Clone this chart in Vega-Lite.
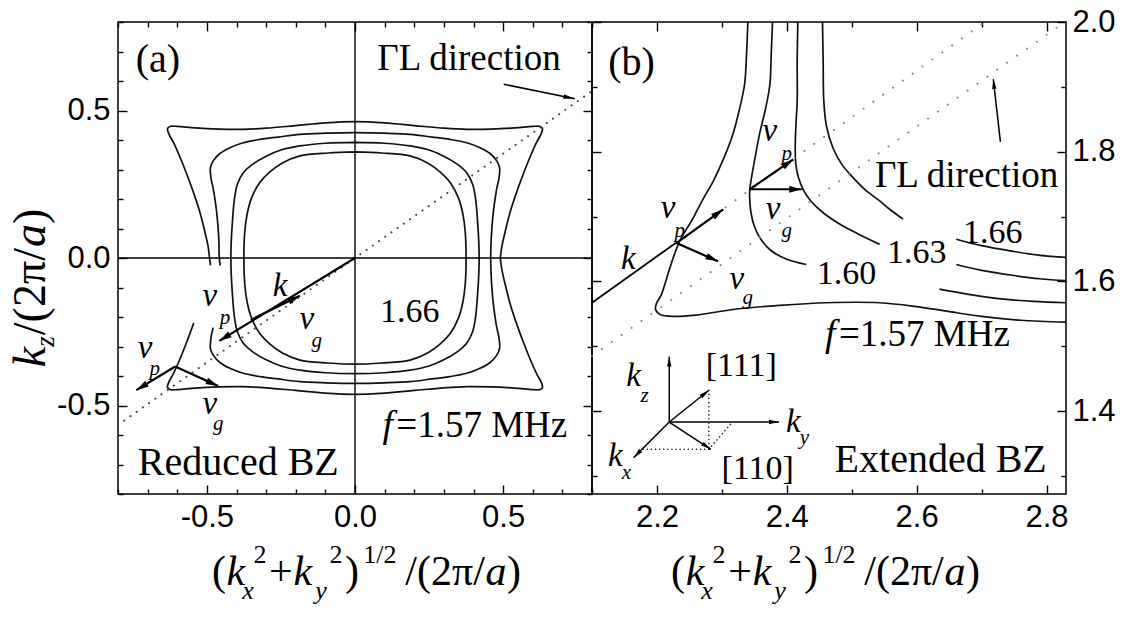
{
  "$schema": "https://vega.github.io/schema/vega-lite/v6.json",
  "background": "white",
  "padding": {"left": 7, "top": 5, "right": 0, "bottom": 0},
  "config": {
    "view": {"stroke": "black", "strokeWidth": 1.5},
    "text": {"font": "Liberation Serif", "color": "black"}
  },
  "datasets": {
    "curvesA": [
      {"c":"a1","i":0,"x":-0.488,"y":-0.025},{"c":"a1","i":1,"x":-0.491,"y":0},{"c":"a1","i":2,"x":-0.496,"y":0.04},{"c":"a1","i":3,"x":-0.507,"y":0.09},{"c":"a1","i":4,"x":-0.525,"y":0.16},{"c":"a1","i":5,"x":-0.548,"y":0.23},{"c":"a1","i":6,"x":-0.57,"y":0.29},{"c":"a1","i":7,"x":-0.592,"y":0.345},{"c":"a1","i":8,"x":-0.612,"y":0.39},{"c":"a1","i":9,"x":-0.628,"y":0.42},{"c":"a1","i":10,"x":-0.633,"y":0.438},{"c":"a1","i":11,"x":-0.625,"y":0.446},{"c":"a1","i":12,"x":-0.6,"y":0.446},{"c":"a1","i":13,"x":-0.54,"y":0.441},{"c":"a1","i":14,"x":-0.46,"y":0.437},{"c":"a1","i":15,"x":-0.38,"y":0.436},{"c":"a1","i":16,"x":-0.3,"y":0.44},{"c":"a1","i":17,"x":-0.2,"y":0.449},{"c":"a1","i":18,"x":-0.1,"y":0.458},{"c":"a1","i":19,"x":0,"y":0.462},{"c":"a1","i":20,"x":0.1,"y":0.458},{"c":"a1","i":21,"x":0.2,"y":0.449},{"c":"a1","i":22,"x":0.3,"y":0.44},{"c":"a1","i":23,"x":0.38,"y":0.436},{"c":"a1","i":24,"x":0.46,"y":0.437},{"c":"a1","i":25,"x":0.54,"y":0.441},{"c":"a1","i":26,"x":0.6,"y":0.446},{"c":"a1","i":27,"x":0.625,"y":0.446},{"c":"a1","i":28,"x":0.633,"y":0.438},{"c":"a1","i":29,"x":0.628,"y":0.42},{"c":"a1","i":30,"x":0.612,"y":0.39},{"c":"a1","i":31,"x":0.592,"y":0.345},{"c":"a1","i":32,"x":0.57,"y":0.29},{"c":"a1","i":33,"x":0.548,"y":0.23},{"c":"a1","i":34,"x":0.525,"y":0.16},{"c":"a1","i":35,"x":0.507,"y":0.09},{"c":"a1","i":36,"x":0.496,"y":0.04},{"c":"a1","i":37,"x":0.491,"y":0},{"c":"a1","i":38,"x":0.496,"y":-0.04},{"c":"a1","i":39,"x":0.507,"y":-0.09},{"c":"a1","i":40,"x":0.525,"y":-0.16},{"c":"a1","i":41,"x":0.548,"y":-0.23},{"c":"a1","i":42,"x":0.57,"y":-0.29},{"c":"a1","i":43,"x":0.592,"y":-0.345},{"c":"a1","i":44,"x":0.612,"y":-0.39},{"c":"a1","i":45,"x":0.628,"y":-0.42},{"c":"a1","i":46,"x":0.633,"y":-0.438},{"c":"a1","i":47,"x":0.625,"y":-0.446},{"c":"a1","i":48,"x":0.6,"y":-0.446},{"c":"a1","i":49,"x":0.54,"y":-0.441},{"c":"a1","i":50,"x":0.46,"y":-0.437},{"c":"a1","i":51,"x":0.38,"y":-0.436},{"c":"a1","i":52,"x":0.3,"y":-0.44},{"c":"a1","i":53,"x":0.2,"y":-0.449},{"c":"a1","i":54,"x":0.1,"y":-0.458},{"c":"a1","i":55,"x":0,"y":-0.462},{"c":"a1","i":56,"x":-0.1,"y":-0.458},{"c":"a1","i":57,"x":-0.2,"y":-0.449},{"c":"a1","i":58,"x":-0.3,"y":-0.44},{"c":"a1","i":59,"x":-0.38,"y":-0.436},{"c":"a1","i":60,"x":-0.46,"y":-0.437},{"c":"a1","i":61,"x":-0.54,"y":-0.441},{"c":"a1","i":62,"x":-0.6,"y":-0.446},{"c":"a1","i":63,"x":-0.625,"y":-0.446},{"c":"a1","i":64,"x":-0.633,"y":-0.438},{"c":"a1","i":65,"x":-0.628,"y":-0.42},{"c":"a1","i":66,"x":-0.612,"y":-0.39},{"c":"a1","i":67,"x":-0.592,"y":-0.345},{"c":"a1","i":68,"x":-0.57,"y":-0.29},{"c":"a1","i":69,"x":-0.544,"y":-0.22},
      {"c":"a2","i":0,"x":-0.455,"y":-0.025},{"c":"a2","i":1,"x":-0.458,"y":0},{"c":"a2","i":2,"x":-0.46,"y":0.07},{"c":"a2","i":3,"x":-0.465,"y":0.137},{"c":"a2","i":4,"x":-0.47,"y":0.18},{"c":"a2","i":5,"x":-0.479,"y":0.238},{"c":"a2","i":6,"x":-0.486,"y":0.27},{"c":"a2","i":7,"x":-0.488,"y":0.306},{"c":"a2","i":8,"x":-0.478,"y":0.33},{"c":"a2","i":9,"x":-0.455,"y":0.355},{"c":"a2","i":10,"x":-0.422,"y":0.374},{"c":"a2","i":11,"x":-0.38,"y":0.39},{"c":"a2","i":12,"x":-0.321,"y":0.402},{"c":"a2","i":13,"x":-0.26,"y":0.41},{"c":"a2","i":14,"x":-0.186,"y":0.419},{"c":"a2","i":15,"x":-0.1,"y":0.423},{"c":"a2","i":16,"x":0,"y":0.425},{"c":"a2","i":17,"x":0.1,"y":0.423},{"c":"a2","i":18,"x":0.186,"y":0.419},{"c":"a2","i":19,"x":0.26,"y":0.41},{"c":"a2","i":20,"x":0.321,"y":0.402},{"c":"a2","i":21,"x":0.38,"y":0.39},{"c":"a2","i":22,"x":0.422,"y":0.374},{"c":"a2","i":23,"x":0.455,"y":0.355},{"c":"a2","i":24,"x":0.478,"y":0.33},{"c":"a2","i":25,"x":0.488,"y":0.306},{"c":"a2","i":26,"x":0.486,"y":0.27},{"c":"a2","i":27,"x":0.479,"y":0.238},{"c":"a2","i":28,"x":0.47,"y":0.18},{"c":"a2","i":29,"x":0.465,"y":0.137},{"c":"a2","i":30,"x":0.46,"y":0.07},{"c":"a2","i":31,"x":0.458,"y":0},{"c":"a2","i":32,"x":0.46,"y":-0.07},{"c":"a2","i":33,"x":0.465,"y":-0.137},{"c":"a2","i":34,"x":0.47,"y":-0.18},{"c":"a2","i":35,"x":0.479,"y":-0.238},{"c":"a2","i":36,"x":0.486,"y":-0.27},{"c":"a2","i":37,"x":0.488,"y":-0.306},{"c":"a2","i":38,"x":0.478,"y":-0.33},{"c":"a2","i":39,"x":0.455,"y":-0.355},{"c":"a2","i":40,"x":0.422,"y":-0.374},{"c":"a2","i":41,"x":0.38,"y":-0.39},{"c":"a2","i":42,"x":0.321,"y":-0.402},{"c":"a2","i":43,"x":0.26,"y":-0.41},{"c":"a2","i":44,"x":0.186,"y":-0.419},{"c":"a2","i":45,"x":0.1,"y":-0.423},{"c":"a2","i":46,"x":0,"y":-0.425},{"c":"a2","i":47,"x":-0.1,"y":-0.423},{"c":"a2","i":48,"x":-0.186,"y":-0.419},{"c":"a2","i":49,"x":-0.26,"y":-0.41},{"c":"a2","i":50,"x":-0.321,"y":-0.402},{"c":"a2","i":51,"x":-0.38,"y":-0.39},{"c":"a2","i":52,"x":-0.422,"y":-0.374},{"c":"a2","i":53,"x":-0.455,"y":-0.355},{"c":"a2","i":54,"x":-0.478,"y":-0.33},{"c":"a2","i":55,"x":-0.488,"y":-0.306},{"c":"a2","i":56,"x":-0.486,"y":-0.27},{"c":"a2","i":57,"x":-0.479,"y":-0.236},
      {"c":"a3","i":0,"x":0,"y":0.392},{"c":"a3","i":1,"x":0.1,"y":0.389},{"c":"a3","i":2,"x":0.186,"y":0.38},{"c":"a3","i":3,"x":0.25,"y":0.366},{"c":"a3","i":4,"x":0.298,"y":0.346},{"c":"a3","i":5,"x":0.345,"y":0.318},{"c":"a3","i":6,"x":0.377,"y":0.289},{"c":"a3","i":7,"x":0.397,"y":0.25},{"c":"a3","i":8,"x":0.407,"y":0.2},{"c":"a3","i":9,"x":0.414,"y":0.12},{"c":"a3","i":10,"x":0.418,"y":0.05},{"c":"a3","i":11,"x":0.419,"y":0},{"c":"a3","i":12,"x":0.418,"y":-0.05},{"c":"a3","i":13,"x":0.414,"y":-0.12},{"c":"a3","i":14,"x":0.407,"y":-0.2},{"c":"a3","i":15,"x":0.397,"y":-0.25},{"c":"a3","i":16,"x":0.377,"y":-0.289},{"c":"a3","i":17,"x":0.345,"y":-0.318},{"c":"a3","i":18,"x":0.298,"y":-0.346},{"c":"a3","i":19,"x":0.25,"y":-0.366},{"c":"a3","i":20,"x":0.186,"y":-0.38},{"c":"a3","i":21,"x":0.1,"y":-0.389},{"c":"a3","i":22,"x":0,"y":-0.392},{"c":"a3","i":23,"x":-0.1,"y":-0.389},{"c":"a3","i":24,"x":-0.186,"y":-0.38},{"c":"a3","i":25,"x":-0.25,"y":-0.366},{"c":"a3","i":26,"x":-0.298,"y":-0.346},{"c":"a3","i":27,"x":-0.345,"y":-0.318},{"c":"a3","i":28,"x":-0.377,"y":-0.289},{"c":"a3","i":29,"x":-0.397,"y":-0.25},{"c":"a3","i":30,"x":-0.407,"y":-0.2},{"c":"a3","i":31,"x":-0.414,"y":-0.12},{"c":"a3","i":32,"x":-0.418,"y":-0.05},{"c":"a3","i":33,"x":-0.419,"y":0},{"c":"a3","i":34,"x":-0.418,"y":0.05},{"c":"a3","i":35,"x":-0.414,"y":0.12},{"c":"a3","i":36,"x":-0.407,"y":0.2},{"c":"a3","i":37,"x":-0.397,"y":0.25},{"c":"a3","i":38,"x":-0.377,"y":0.289},{"c":"a3","i":39,"x":-0.345,"y":0.318},{"c":"a3","i":40,"x":-0.298,"y":0.346},{"c":"a3","i":41,"x":-0.25,"y":0.366},{"c":"a3","i":42,"x":-0.186,"y":0.38},{"c":"a3","i":43,"x":-0.1,"y":0.389},{"c":"a3","i":44,"x":0,"y":0.392},
      {"c":"a4","i":0,"x":0,"y":0.36},{"c":"a4","i":1,"x":0.09,"y":0.356},{"c":"a4","i":2,"x":0.186,"y":0.346},{"c":"a4","i":3,"x":0.245,"y":0.322},{"c":"a4","i":4,"x":0.287,"y":0.292},{"c":"a4","i":5,"x":0.322,"y":0.255},{"c":"a4","i":6,"x":0.349,"y":0.204},{"c":"a4","i":7,"x":0.364,"y":0.15},{"c":"a4","i":8,"x":0.372,"y":0.09},{"c":"a4","i":9,"x":0.375,"y":0},{"c":"a4","i":10,"x":0.372,"y":-0.09},{"c":"a4","i":11,"x":0.364,"y":-0.15},{"c":"a4","i":12,"x":0.349,"y":-0.204},{"c":"a4","i":13,"x":0.322,"y":-0.255},{"c":"a4","i":14,"x":0.287,"y":-0.292},{"c":"a4","i":15,"x":0.245,"y":-0.322},{"c":"a4","i":16,"x":0.186,"y":-0.346},{"c":"a4","i":17,"x":0.09,"y":-0.356},{"c":"a4","i":18,"x":0,"y":-0.36},{"c":"a4","i":19,"x":-0.09,"y":-0.356},{"c":"a4","i":20,"x":-0.186,"y":-0.346},{"c":"a4","i":21,"x":-0.245,"y":-0.322},{"c":"a4","i":22,"x":-0.287,"y":-0.292},{"c":"a4","i":23,"x":-0.322,"y":-0.255},{"c":"a4","i":24,"x":-0.349,"y":-0.204},{"c":"a4","i":25,"x":-0.364,"y":-0.15},{"c":"a4","i":26,"x":-0.372,"y":-0.09},{"c":"a4","i":27,"x":-0.375,"y":0},{"c":"a4","i":28,"x":-0.372,"y":0.09},{"c":"a4","i":29,"x":-0.364,"y":0.15},{"c":"a4","i":30,"x":-0.349,"y":0.204},{"c":"a4","i":31,"x":-0.322,"y":0.255},{"c":"a4","i":32,"x":-0.287,"y":0.292},{"c":"a4","i":33,"x":-0.245,"y":0.322},{"c":"a4","i":34,"x":-0.186,"y":0.346},{"c":"a4","i":35,"x":-0.09,"y":0.356},{"c":"a4","i":36,"x":0,"y":0.36}
    ],
    "curvesB": [
      {"c":"b1","i":0,"x":2.34,"y":2.0},{"c":"b1","i":1,"x":2.338,"y":1.95},{"c":"b1","i":2,"x":2.335,"y":1.904},{"c":"b1","i":3,"x":2.327,"y":1.865},{"c":"b1","i":4,"x":2.317,"y":1.827},{"c":"b1","i":5,"x":2.303,"y":1.79},{"c":"b1","i":6,"x":2.287,"y":1.755},{"c":"b1","i":7,"x":2.27,"y":1.725},{"c":"b1","i":8,"x":2.256,"y":1.698},{"c":"b1","i":9,"x":2.235,"y":1.662},{"c":"b1","i":10,"x":2.22,"y":1.621},{"c":"b1","i":11,"x":2.207,"y":1.58},{"c":"b1","i":12,"x":2.199,"y":1.565},{"c":"b1","i":13,"x":2.198,"y":1.556},{"c":"b1","i":14,"x":2.205,"y":1.549},{"c":"b1","i":15,"x":2.225,"y":1.546},{"c":"b1","i":16,"x":2.26,"y":1.548},{"c":"b1","i":17,"x":2.32,"y":1.557},{"c":"b1","i":18,"x":2.389,"y":1.563},{"c":"b1","i":19,"x":2.46,"y":1.567},{"c":"b1","i":20,"x":2.543,"y":1.567},{"c":"b1","i":21,"x":2.6,"y":1.561},{"c":"b1","i":22,"x":2.646,"y":1.554},{"c":"b1","i":23,"x":2.7,"y":1.546},{"c":"b1","i":24,"x":2.76,"y":1.54},{"c":"b1","i":25,"x":2.83,"y":1.537},
      {"c":"b2u","i":0,"x":2.378,"y":2.0},{"c":"b2u","i":1,"x":2.376,"y":1.95},{"c":"b2u","i":2,"x":2.374,"y":1.904},{"c":"b2u","i":3,"x":2.367,"y":1.865},{"c":"b2u","i":4,"x":2.358,"y":1.827},{"c":"b2u","i":5,"x":2.351,"y":1.79},{"c":"b2u","i":6,"x":2.346,"y":1.762},{"c":"b2u","i":7,"x":2.343,"y":1.742},{"c":"b2u","i":8,"x":2.343,"y":1.725},{"c":"b2u","i":9,"x":2.345,"y":1.705},{"c":"b2u","i":10,"x":2.35,"y":1.685},{"c":"b2u","i":11,"x":2.36,"y":1.665},{"c":"b2u","i":12,"x":2.375,"y":1.648},{"c":"b2u","i":13,"x":2.4,"y":1.634},{"c":"b2u","i":14,"x":2.43,"y":1.626},
      {"c":"b2r","i":0,"x":2.635,"y":1.588},{"c":"b2r","i":1,"x":2.68,"y":1.58},{"c":"b2r","i":2,"x":2.73,"y":1.573},{"c":"b2r","i":3,"x":2.78,"y":1.569},{"c":"b2r","i":4,"x":2.83,"y":1.567},
      {"c":"b3u","i":0,"x":2.417,"y":2.0},{"c":"b3u","i":1,"x":2.416,"y":1.94},{"c":"b3u","i":2,"x":2.416,"y":1.878},{"c":"b3u","i":3,"x":2.414,"y":1.84},{"c":"b3u","i":4,"x":2.413,"y":1.801},{"c":"b3u","i":5,"x":2.414,"y":1.78},{"c":"b3u","i":6,"x":2.418,"y":1.76},{"c":"b3u","i":7,"x":2.425,"y":1.742},{"c":"b3u","i":8,"x":2.437,"y":1.724},{"c":"b3u","i":9,"x":2.457,"y":1.705},{"c":"b3u","i":10,"x":2.482,"y":1.688},{"c":"b3u","i":11,"x":2.51,"y":1.673},{"c":"b3u","i":12,"x":2.543,"y":1.657},
      {"c":"b3r","i":0,"x":2.661,"y":1.626},{"c":"b3r","i":1,"x":2.7,"y":1.617},{"c":"b3r","i":2,"x":2.75,"y":1.609},{"c":"b3r","i":3,"x":2.79,"y":1.604},{"c":"b3r","i":4,"x":2.83,"y":1.601},
      {"c":"b4u","i":0,"x":2.455,"y":2.0},{"c":"b4u","i":1,"x":2.456,"y":1.94},{"c":"b4u","i":2,"x":2.457,"y":1.878},{"c":"b4u","i":3,"x":2.461,"y":1.84},{"c":"b4u","i":4,"x":2.471,"y":1.806},{"c":"b4u","i":5,"x":2.485,"y":1.78},{"c":"b4u","i":6,"x":2.502,"y":1.76},{"c":"b4u","i":7,"x":2.52,"y":1.742},{"c":"b4u","i":8,"x":2.543,"y":1.724},{"c":"b4u","i":9,"x":2.56,"y":1.71},{"c":"b4u","i":10,"x":2.579,"y":1.696},
      {"c":"b4r","i":0,"x":2.661,"y":1.665},{"c":"b4r","i":1,"x":2.7,"y":1.655},{"c":"b4r","i":2,"x":2.75,"y":1.646},{"c":"b4r","i":3,"x":2.79,"y":1.64},{"c":"b4r","i":4,"x":2.83,"y":1.637}
    ],
    "axisLinesA": [{"x":-0.8,"y":0,"x2":0.8,"y2":0},{"x":0,"y":-0.8,"x2":0,"y2":0.8}],
    "dotsA": [{"x":-0.8,"y":-0.566,"x2":0.8,"y2":0.566}],
    "arrowsA": [
      {"x":0,"y":0,"x2":-0.458,"y2":-0.281},
      {"x":-0.352,"y":-0.21,"x2":-0.186,"y2":-0.128},
      {"x":-0.607,"y":-0.368,"x2":-0.738,"y2":-0.448},
      {"x":-0.607,"y":-0.368,"x2":-0.462,"y2":-0.434}
    ],
    "thinA": [{"x":0.502,"y":0.589,"x2":0.742,"y2":0.54}],
    "kLineB": [{"x":2.1,"y":1.567,"x2":2.23,"y2":1.66}],
    "dotsB": [{"x":2.1,"y":1.485,"x2":2.828,"y2":2.0},{"x":2.23,"y":1.66,"x2":2.705,"y2":2.0}],
    "insetDotsB": [{"x":2.28,"y":1.432,"x2":2.28,"y2":1.341},{"x":2.28,"y":1.341,"x2":2.177,"y2":1.341},{"x":2.28,"y":1.341,"x2":2.316,"y2":1.383}],
    "arrowsB": [
      {"x":2.23,"y":1.659,"x2":2.302,"y2":1.711},
      {"x":2.23,"y":1.659,"x2":2.294,"y2":1.631},
      {"x":2.343,"y":1.742,"x2":2.41,"y2":1.788},
      {"x":2.343,"y":1.742,"x2":2.423,"y2":1.742}
    ],
    "thinB": [
      {"x":2.729,"y":1.815,"x2":2.718,"y2":1.912},
      {"x":2.219,"y":1.383,"x2":2.219,"y2":1.484},
      {"x":2.219,"y":1.383,"x2":2.388,"y2":1.383},
      {"x":2.219,"y":1.383,"x2":2.164,"y2":1.328},
      {"x":2.219,"y":1.383,"x2":2.28,"y2":1.432},
      {"x":2.219,"y":1.383,"x2":2.283,"y2":1.341}
    ],
    "bigA": [{"t":"(a)","x":-0.665,"y":0.67},{"t":"Reduced BZ","x":-0.394,"y":-0.696}],
    "medA": [{"t":"ΓL direction","x":0.385,"y":0.673},{"t":"=1.57 MHz","x":0.428,"y":-0.569}],
    "numA": [{"t":"1.66","x":0.185,"y":-0.183}],
    "itA": [{"t":"k","x":-0.253,"y":-0.095},{"t":"v","x":-0.49,"y":-0.129},{"t":"v","x":-0.163,"y":-0.208},{"t":"v","x":-0.709,"y":-0.304},{"t":"v","x":-0.49,"y":-0.496}],
    "itBigA": [{"t":"f","x":0.111,"y":-0.569}],
    "subA": [{"t":"p","x":-0.439,"y":-0.202},{"t":"g","x":-0.129,"y":-0.281},{"t":"p","x":-0.676,"y":-0.377},{"t":"g","x":-0.462,"y":-0.564}],
    "bigB": [{"t":"(b)","x":2.161,"y":1.937},{"t":"Extended BZ","x":2.637,"y":1.325}],
    "medB": [{"t":"ΓL direction","x":2.677,"y":1.762},{"t":"=1.57 MHz","x":2.612,"y":1.518}],
    "numB": [{"t":"1.60","x":2.492,"y":1.611},{"t":"1.63","x":2.6,"y":1.644},{"t":"1.66","x":2.717,"y":1.675},{"t":"[111]","x":2.33,"y":1.469},{"t":"[110]","x":2.355,"y":1.31}],
    "itB": [{"t":"k","x":2.156,"y":1.634},{"t":"v","x":2.217,"y":1.713},{"t":"v","x":2.323,"y":1.603},{"t":"v","x":2.374,"y":1.832},{"t":"v","x":2.379,"y":1.711},{"t":"k","x":2.164,"y":1.454},{"t":"k","x":2.41,"y":1.383},{"t":"k","x":2.136,"y":1.331}],
    "itBigB": [{"t":"f","x":2.467,"y":1.518}],
    "subB": [{"t":"p","x":2.235,"y":1.677},{"t":"g","x":2.34,"y":1.575},{"t":"p","x":2.4,"y":1.796},{"t":"g","x":2.4,"y":1.677},{"t":"z","x":2.181,"y":1.423},{"t":"y","x":2.427,"y":1.359},{"t":"x","x":2.153,"y":1.304}],
    "xTitleUpA": [{"t":"(","x":-0.459,"y":-1.108},{"t":"+","x":-0.25,"y":-1.108},{"t":")","x":-0.01,"y":-1.108},{"t":"/(2π/","x":0.304,"y":-1.108},{"t":")","x":0.537,"y":-1.108}],
    "xTitleItA": [{"t":"k","x":-0.402,"y":-1.108},{"t":"k","x":-0.176,"y":-1.108},{"t":"a","x":0.476,"y":-1.108}],
    "xTitleSupA": [{"t":"2","x":-0.321,"y":-1.034},{"t":"2","x":-0.064,"y":-1.034},{"t":"1/2","x":0.084,"y":-1.034}],
    "xTitleSubA": [{"t":"x","x":-0.361,"y":-1.156},{"t":"y","x":-0.115,"y":-1.156}],
    "xTitleUpB": [{"t":"(","x":2.2324,"y":1.131},{"t":"+","x":2.3279,"y":1.131},{"t":")","x":2.4373,"y":1.131},{"t":"/(2π/","x":2.5805,"y":1.131},{"t":")","x":2.6868,"y":1.131}],
    "xTitleItB": [{"t":"k","x":2.2586,"y":1.131},{"t":"k","x":2.3618,"y":1.131},{"t":"a","x":2.6591,"y":1.131}],
    "xTitleSupB": [{"t":"2","x":2.2956,"y":1.165},{"t":"2","x":2.4126,"y":1.165},{"t":"1/2","x":2.4804,"y":1.165}],
    "xTitleSubB": [{"t":"x","x":2.2771,"y":1.11},{"t":"y","x":2.3895,"y":1.11}],
    "yTitleUpA": [{"t":"/(2π/","x":-1.046,"y":-0.114},{"t":")","x":-1.046,"y":0.141}],
    "yTitleItA": [{"t":"k","x":-1.046,"y":-0.336},{"t":"a","x":-1.046,"y":0.076}],
    "yTitleSubA": [{"t":"z","x":-1.016,"y":-0.283}]
  },
  "hconcat": [
    {
      "width": 474,
      "height": 472,
      "resolve": {"axis": {"x": "independent", "y": "independent"}},
      "layer": [
        {
          "data": {"name": "curvesA"},
          "mark": {"type": "line", "interpolate": "catmull-rom", "color": "#111", "strokeWidth": 1.7, "clip": true},
          "encoding": {
            "x": {"field": "x", "type": "quantitative", "scale": {"domain": [-0.8, 0.8], "nice": false, "zero": false},
              "axis": {"orient": "bottom", "values": [-0.8,-0.7,-0.6,-0.5,-0.4,-0.3,-0.2,-0.1,0,0.1,0.2,0.3,0.4,0.5,0.6,0.7,0.8], "title": null, "domain": false, "grid": false,
                "tickColor": "black", "tickWidth": 1.4, "tickSize": {"condition": {"test": "abs(datum.value*2-round(datum.value*2))<0.001", "value": -9}, "value": -5},
                "labelExpr": "abs(datum.value*2-round(datum.value*2))<0.001 ? ((datum.value < -0.001 ? '-' : '') + format(abs(datum.value), '.1f')) : ''",
                "labelFont": "Liberation Sans", "labelFontSize": 31, "labelColor": "black", "labelPadding": 17, "labelOverlap": false, "labelFlush": false, "labelBound": false}},
            "y": {"field": "y", "type": "quantitative", "scale": {"domain": [-0.8, 0.8], "nice": false, "zero": false},
              "axis": {"orient": "left", "values": [-0.8,-0.7,-0.6,-0.5,-0.4,-0.3,-0.2,-0.1,0,0.1,0.2,0.3,0.4,0.5,0.6,0.7,0.8], "title": null, "domain": false, "grid": false,
                "tickColor": "black", "tickWidth": 1.4, "tickSize": {"condition": {"test": "abs(datum.value*2-round(datum.value*2))<0.001", "value": -9}, "value": -5},
                "labelExpr": "abs(datum.value*2-round(datum.value*2))<0.001 ? ((datum.value < -0.001 ? '-' : '') + format(abs(datum.value), '.1f')) : ''",
                "labelFont": "Liberation Sans", "labelFontSize": 31, "labelColor": "black", "labelPadding": 17, "labelOverlap": false, "labelBound": false}},
            "detail": {"field": "c"},
            "order": {"field": "i", "type": "quantitative"}
          }
        },
        {
          "data": {"name": "axisLinesA"},
          "mark": {"type": "rule", "color": "black", "strokeWidth": 1.4},
          "encoding": {
            "x": {"field": "x", "type": "quantitative", "scale": {"domain": [-0.8, 0.8], "nice": false, "zero": false},
              "axis": {"orient": "top", "values": [-0.8,-0.7,-0.6,-0.5,-0.4,-0.3,-0.2,-0.1,0,0.1,0.2,0.3,0.4,0.5,0.6,0.7,0.8], "title": null, "domain": false, "grid": false, "labels": false,
                "tickColor": "black", "tickWidth": 1.4, "tickSize": {"condition": {"test": "abs(datum.value*2-round(datum.value*2))<0.001", "value": -9}, "value": -5}}},
            "y": {"field": "y", "type": "quantitative", "scale": {"domain": [-0.8, 0.8], "nice": false, "zero": false},
              "axis": {"orient": "right", "values": [-0.8,-0.7,-0.6,-0.5,-0.4,-0.3,-0.2,-0.1,0,0.1,0.2,0.3,0.4,0.5,0.6,0.7,0.8], "title": null, "domain": false, "grid": false, "labels": false,
                "tickColor": "black", "tickWidth": 1.4, "tickSize": {"condition": {"test": "abs(datum.value*2-round(datum.value*2))<0.001", "value": -9}, "value": -5}}},
            "x2": {"field": "x2"},
            "y2": {"field": "y2"}
          }
        },
        {
          "data": {"name": "dotsA"},
          "mark": {"type": "rule", "color": "#444", "strokeWidth": 2, "strokeDash": [0.1, 7.5], "strokeCap": "round"},
          "encoding": {
            "x": {"field": "x", "type": "quantitative", "scale": {"domain": [-0.8, 0.8], "nice": false, "zero": false}, "axis": null},
            "y": {"field": "y", "type": "quantitative", "scale": {"domain": [-0.8, 0.8], "nice": false, "zero": false}, "axis": null},
            "x2": {"field": "x2"}, "y2": {"field": "y2"}
          }
        },
        {
          "data": {"name": "arrowsA"},
          "mark": {"type": "rule", "color": "black", "strokeWidth": 2.2},
          "encoding": {
            "x": {"field": "x", "type": "quantitative", "scale": {"domain": [-0.8, 0.8], "nice": false, "zero": false}, "axis": null},
            "y": {"field": "y", "type": "quantitative", "scale": {"domain": [-0.8, 0.8], "nice": false, "zero": false}, "axis": null},
            "x2": {"field": "x2"}, "y2": {"field": "y2"}
          }
        },
        {
          "data": {"name": "arrowsA"},
          "transform": [{"calculate": "atan2(datum.x2-datum.x, datum.y2-datum.y)*180/PI", "as": "ang"}],
          "mark": {"type": "point", "shape": "M0,0L-0.27,1L0.27,1Z", "filled": true, "size": 620, "color": "black", "opacity": 1, "strokeWidth": 0},
          "encoding": {
            "x": {"field": "x2", "type": "quantitative", "scale": {"domain": [-0.8, 0.8], "nice": false, "zero": false}, "axis": null},
            "y": {"field": "y2", "type": "quantitative", "scale": {"domain": [-0.8, 0.8], "nice": false, "zero": false}, "axis": null},
            "angle": {"field": "ang", "type": "quantitative", "scale": null}
          }
        },
        {
          "data": {"name": "thinA"},
          "mark": {"type": "rule", "color": "black", "strokeWidth": 1.5},
          "encoding": {
            "x": {"field": "x", "type": "quantitative", "scale": {"domain": [-0.8, 0.8], "nice": false, "zero": false}, "axis": null},
            "y": {"field": "y", "type": "quantitative", "scale": {"domain": [-0.8, 0.8], "nice": false, "zero": false}, "axis": null},
            "x2": {"field": "x2"}, "y2": {"field": "y2"}
          }
        },
        {
          "data": {"name": "thinA"},
          "transform": [{"calculate": "atan2(datum.x2-datum.x, datum.y2-datum.y)*180/PI", "as": "ang"}],
          "mark": {"type": "point", "shape": "M0,0L-0.2,1L0.2,1Z", "filled": true, "size": 520, "color": "black", "opacity": 1, "strokeWidth": 0},
          "encoding": {
            "x": {"field": "x2", "type": "quantitative", "scale": {"domain": [-0.8, 0.8], "nice": false, "zero": false}, "axis": null},
            "y": {"field": "y2", "type": "quantitative", "scale": {"domain": [-0.8, 0.8], "nice": false, "zero": false}, "axis": null},
            "angle": {"field": "ang", "type": "quantitative", "scale": null}
          }
        },
        {
          "data": {"name": "bigA"},
          "mark": {"type": "text", "font": "Liberation Serif", "fontSize": 40, "align": "center", "baseline": "middle"},
          "encoding": {
            "x": {"field": "x", "type": "quantitative", "scale": {"domain": [-0.8, 0.8], "nice": false, "zero": false}, "axis": null},
            "y": {"field": "y", "type": "quantitative", "scale": {"domain": [-0.8, 0.8], "nice": false, "zero": false}, "axis": null},
            "text": {"field": "t"}
          }
        },
        {
          "data": {"name": "medA"},
          "mark": {"type": "text", "font": "Liberation Serif", "fontSize": 37, "align": "center", "baseline": "middle"},
          "encoding": {
            "x": {"field": "x", "type": "quantitative", "scale": {"domain": [-0.8, 0.8], "nice": false, "zero": false}, "axis": null},
            "y": {"field": "y", "type": "quantitative", "scale": {"domain": [-0.8, 0.8], "nice": false, "zero": false}, "axis": null},
            "text": {"field": "t"}
          }
        },
        {
          "data": {"name": "numA"},
          "mark": {"type": "text", "font": "Liberation Serif", "fontSize": 34, "align": "center", "baseline": "middle"},
          "encoding": {
            "x": {"field": "x", "type": "quantitative", "scale": {"domain": [-0.8, 0.8], "nice": false, "zero": false}, "axis": null},
            "y": {"field": "y", "type": "quantitative", "scale": {"domain": [-0.8, 0.8], "nice": false, "zero": false}, "axis": null},
            "text": {"field": "t"}
          }
        },
        {
          "data": {"name": "itA"},
          "mark": {"type": "text", "font": "Liberation Serif", "fontSize": 33, "fontStyle": "italic", "align": "center", "baseline": "middle"},
          "encoding": {
            "x": {"field": "x", "type": "quantitative", "scale": {"domain": [-0.8, 0.8], "nice": false, "zero": false}, "axis": null},
            "y": {"field": "y", "type": "quantitative", "scale": {"domain": [-0.8, 0.8], "nice": false, "zero": false}, "axis": null},
            "text": {"field": "t"}
          }
        },
        {
          "data": {"name": "itBigA"},
          "mark": {"type": "text", "font": "Liberation Serif", "fontSize": 38, "fontStyle": "italic", "align": "center", "baseline": "middle"},
          "encoding": {
            "x": {"field": "x", "type": "quantitative", "scale": {"domain": [-0.8, 0.8], "nice": false, "zero": false}, "axis": null},
            "y": {"field": "y", "type": "quantitative", "scale": {"domain": [-0.8, 0.8], "nice": false, "zero": false}, "axis": null},
            "text": {"field": "t"}
          }
        },
        {
          "data": {"name": "subA"},
          "mark": {"type": "text", "font": "Liberation Serif", "fontSize": 21, "fontStyle": "italic", "align": "center", "baseline": "middle"},
          "encoding": {
            "x": {"field": "x", "type": "quantitative", "scale": {"domain": [-0.8, 0.8], "nice": false, "zero": false}, "axis": null},
            "y": {"field": "y", "type": "quantitative", "scale": {"domain": [-0.8, 0.8], "nice": false, "zero": false}, "axis": null},
            "text": {"field": "t"}
          }
        },
        {
          "data": {"name": "xTitleUpA"},
          "mark": {"type": "text", "font": "Liberation Serif", "fontSize": 42, "align": "center", "baseline": "alphabetic"},
          "encoding": {
            "x": {"field": "x", "type": "quantitative", "scale": {"domain": [-0.8, 0.8], "nice": false, "zero": false}, "axis": null},
            "y": {"field": "y", "type": "quantitative", "scale": {"domain": [-0.8, 0.8], "nice": false, "zero": false}, "axis": null},
            "text": {"field": "t"}
          }
        },
        {
          "data": {"name": "xTitleItA"},
          "mark": {"type": "text", "font": "Liberation Serif", "fontSize": 42, "fontStyle": "italic", "align": "center", "baseline": "alphabetic"},
          "encoding": {
            "x": {"field": "x", "type": "quantitative", "scale": {"domain": [-0.8, 0.8], "nice": false, "zero": false}, "axis": null},
            "y": {"field": "y", "type": "quantitative", "scale": {"domain": [-0.8, 0.8], "nice": false, "zero": false}, "axis": null},
            "text": {"field": "t"}
          }
        },
        {
          "data": {"name": "xTitleSupA"},
          "mark": {"type": "text", "font": "Liberation Serif", "fontSize": 26, "align": "center", "baseline": "alphabetic"},
          "encoding": {
            "x": {"field": "x", "type": "quantitative", "scale": {"domain": [-0.8, 0.8], "nice": false, "zero": false}, "axis": null},
            "y": {"field": "y", "type": "quantitative", "scale": {"domain": [-0.8, 0.8], "nice": false, "zero": false}, "axis": null},
            "text": {"field": "t"}
          }
        },
        {
          "data": {"name": "xTitleSubA"},
          "mark": {"type": "text", "font": "Liberation Serif", "fontSize": 26, "fontStyle": "italic", "align": "center", "baseline": "alphabetic"},
          "encoding": {
            "x": {"field": "x", "type": "quantitative", "scale": {"domain": [-0.8, 0.8], "nice": false, "zero": false}, "axis": null},
            "y": {"field": "y", "type": "quantitative", "scale": {"domain": [-0.8, 0.8], "nice": false, "zero": false}, "axis": null},
            "text": {"field": "t"}
          }
        },
        {
          "data": {"name": "yTitleUpA"},
          "mark": {"type": "text", "font": "Liberation Serif", "fontSize": 46, "angle": 270, "align": "center", "baseline": "alphabetic"},
          "encoding": {
            "x": {"field": "x", "type": "quantitative", "scale": {"domain": [-0.8, 0.8], "nice": false, "zero": false}, "axis": null},
            "y": {"field": "y", "type": "quantitative", "scale": {"domain": [-0.8, 0.8], "nice": false, "zero": false}, "axis": null},
            "text": {"field": "t"}
          }
        },
        {
          "data": {"name": "yTitleItA"},
          "mark": {"type": "text", "font": "Liberation Serif", "fontSize": 46, "fontStyle": "italic", "angle": 270, "align": "center", "baseline": "alphabetic"},
          "encoding": {
            "x": {"field": "x", "type": "quantitative", "scale": {"domain": [-0.8, 0.8], "nice": false, "zero": false}, "axis": null},
            "y": {"field": "y", "type": "quantitative", "scale": {"domain": [-0.8, 0.8], "nice": false, "zero": false}, "axis": null},
            "text": {"field": "t"}
          }
        },
        {
          "data": {"name": "yTitleSubA"},
          "mark": {"type": "text", "font": "Liberation Serif", "fontSize": 27, "fontStyle": "italic", "angle": 270, "align": "center", "baseline": "alphabetic"},
          "encoding": {
            "x": {"field": "x", "type": "quantitative", "scale": {"domain": [-0.8, 0.8], "nice": false, "zero": false}, "axis": null},
            "y": {"field": "y", "type": "quantitative", "scale": {"domain": [-0.8, 0.8], "nice": false, "zero": false}, "axis": null},
            "text": {"field": "t"}
          }
        }
      ]
    },
    {
      "width": 474,
      "height": 472,
      "resolve": {"axis": {"x": "independent", "y": "independent"}},
      "layer": [
        {
          "data": {"name": "curvesB"},
          "mark": {"type": "line", "interpolate": "catmull-rom", "color": "#111", "strokeWidth": 1.7, "clip": true},
          "encoding": {
            "x": {"field": "x", "type": "quantitative", "scale": {"domain": [2.1, 2.83], "nice": false, "zero": false},
              "axis": {"orient": "bottom", "values": [2.1,2.2,2.3,2.4,2.5,2.6,2.7,2.8], "title": null, "domain": false, "grid": false,
                "tickColor": "black", "tickWidth": 1.4, "tickSize": {"condition": {"test": "abs(datum.value*5-round(datum.value*5))<0.001", "value": -9}, "value": -5},
                "labelExpr": "abs(datum.value*5-round(datum.value*5))<0.001 ? format(datum.value, '.1f') : ''",
                "labelFont": "Liberation Sans", "labelFontSize": 31, "labelColor": "black", "labelPadding": 17, "labelOverlap": false, "labelFlush": false, "labelBound": false}},
            "y": {"field": "y", "type": "quantitative", "scale": {"domain": [1.272, 2.0], "nice": false, "zero": false},
              "axis": {"orient": "right", "values": [1.3,1.4,1.5,1.6,1.7,1.8,1.9,2.0], "title": null, "domain": false, "grid": false,
                "tickColor": "black", "tickWidth": 1.4, "tickSize": {"condition": {"test": "abs(datum.value*5-round(datum.value*5))<0.001", "value": -9}, "value": -5},
                "labelExpr": "abs(datum.value*5-round(datum.value*5))<0.001 ? format(datum.value, '.1f') : ''",
                "labelFont": "Liberation Sans", "labelFontSize": 31, "labelColor": "black", "labelPadding": 15, "labelOverlap": false, "labelBound": false}},
            "detail": {"field": "c"},
            "order": {"field": "i", "type": "quantitative"}
          }
        },
        {
          "data": {"name": "kLineB"},
          "mark": {"type": "rule", "color": "black", "strokeWidth": 1.8},
          "encoding": {
            "x": {"field": "x", "type": "quantitative", "scale": {"domain": [2.1, 2.83], "nice": false, "zero": false},
              "axis": {"orient": "top", "values": [2.1,2.2,2.3,2.4,2.5,2.6,2.7,2.8], "title": null, "domain": false, "grid": false, "labels": false,
                "tickColor": "black", "tickWidth": 1.4, "tickSize": {"condition": {"test": "abs(datum.value*5-round(datum.value*5))<0.001", "value": -9}, "value": -5}}},
            "y": {"field": "y", "type": "quantitative", "scale": {"domain": [1.272, 2.0], "nice": false, "zero": false},
              "axis": {"orient": "left", "values": [1.3,1.4,1.5,1.6,1.7,1.8,1.9,2.0], "title": null, "domain": false, "grid": false, "labels": false,
                "tickColor": "black", "tickWidth": 1.4, "tickSize": {"condition": {"test": "abs(datum.value*5-round(datum.value*5))<0.001", "value": -9}, "value": -5}}},
            "x2": {"field": "x2"}, "y2": {"field": "y2"}
          }
        },
        {
          "data": {"name": "dotsB"},
          "mark": {"type": "rule", "color": "#888", "strokeWidth": 2, "strokeDash": [0.1, 12], "strokeCap": "round"},
          "encoding": {
            "x": {"field": "x", "type": "quantitative", "scale": {"domain": [2.1, 2.83], "nice": false, "zero": false}, "axis": null},
            "y": {"field": "y", "type": "quantitative", "scale": {"domain": [1.272, 2.0], "nice": false, "zero": false}, "axis": null},
            "x2": {"field": "x2"}, "y2": {"field": "y2"}
          }
        },
        {
          "data": {"name": "insetDotsB"},
          "mark": {"type": "rule", "color": "#222", "strokeWidth": 1.6, "strokeDash": [0.1, 4], "strokeCap": "round"},
          "encoding": {
            "x": {"field": "x", "type": "quantitative", "scale": {"domain": [2.1, 2.83], "nice": false, "zero": false}, "axis": null},
            "y": {"field": "y", "type": "quantitative", "scale": {"domain": [1.272, 2.0], "nice": false, "zero": false}, "axis": null},
            "x2": {"field": "x2"}, "y2": {"field": "y2"}
          }
        },
        {
          "data": {"name": "arrowsB"},
          "mark": {"type": "rule", "color": "black", "strokeWidth": 2.2},
          "encoding": {
            "x": {"field": "x", "type": "quantitative", "scale": {"domain": [2.1, 2.83], "nice": false, "zero": false}, "axis": null},
            "y": {"field": "y", "type": "quantitative", "scale": {"domain": [1.272, 2.0], "nice": false, "zero": false}, "axis": null},
            "x2": {"field": "x2"}, "y2": {"field": "y2"}
          }
        },
        {
          "data": {"name": "arrowsB"},
          "transform": [{"calculate": "atan2(datum.x2-datum.x, datum.y2-datum.y)*180/PI", "as": "ang"}],
          "mark": {"type": "point", "shape": "M0,0L-0.27,1L0.27,1Z", "filled": true, "size": 620, "color": "black", "opacity": 1, "strokeWidth": 0},
          "encoding": {
            "x": {"field": "x2", "type": "quantitative", "scale": {"domain": [2.1, 2.83], "nice": false, "zero": false}, "axis": null},
            "y": {"field": "y2", "type": "quantitative", "scale": {"domain": [1.272, 2.0], "nice": false, "zero": false}, "axis": null},
            "angle": {"field": "ang", "type": "quantitative", "scale": null}
          }
        },
        {
          "data": {"name": "thinB"},
          "mark": {"type": "rule", "color": "black", "strokeWidth": 1.5},
          "encoding": {
            "x": {"field": "x", "type": "quantitative", "scale": {"domain": [2.1, 2.83], "nice": false, "zero": false}, "axis": null},
            "y": {"field": "y", "type": "quantitative", "scale": {"domain": [1.272, 2.0], "nice": false, "zero": false}, "axis": null},
            "x2": {"field": "x2"}, "y2": {"field": "y2"}
          }
        },
        {
          "data": {"name": "thinB"},
          "transform": [{"calculate": "atan2(datum.x2-datum.x, datum.y2-datum.y)*180/PI", "as": "ang"}],
          "mark": {"type": "point", "shape": "M0,0L-0.22,1L0.22,1Z", "filled": true, "size": 400, "color": "black", "opacity": 1, "strokeWidth": 0},
          "encoding": {
            "x": {"field": "x2", "type": "quantitative", "scale": {"domain": [2.1, 2.83], "nice": false, "zero": false}, "axis": null},
            "y": {"field": "y2", "type": "quantitative", "scale": {"domain": [1.272, 2.0], "nice": false, "zero": false}, "axis": null},
            "angle": {"field": "ang", "type": "quantitative", "scale": null}
          }
        },
        {
          "data": {"name": "bigB"},
          "mark": {"type": "text", "font": "Liberation Serif", "fontSize": 40, "align": "center", "baseline": "middle"},
          "encoding": {
            "x": {"field": "x", "type": "quantitative", "scale": {"domain": [2.1, 2.83], "nice": false, "zero": false}, "axis": null},
            "y": {"field": "y", "type": "quantitative", "scale": {"domain": [1.272, 2.0], "nice": false, "zero": false}, "axis": null},
            "text": {"field": "t"}
          }
        },
        {
          "data": {"name": "medB"},
          "mark": {"type": "text", "font": "Liberation Serif", "fontSize": 37, "align": "center", "baseline": "middle"},
          "encoding": {
            "x": {"field": "x", "type": "quantitative", "scale": {"domain": [2.1, 2.83], "nice": false, "zero": false}, "axis": null},
            "y": {"field": "y", "type": "quantitative", "scale": {"domain": [1.272, 2.0], "nice": false, "zero": false}, "axis": null},
            "text": {"field": "t"}
          }
        },
        {
          "data": {"name": "numB"},
          "mark": {"type": "text", "font": "Liberation Serif", "fontSize": 34, "align": "center", "baseline": "middle"},
          "encoding": {
            "x": {"field": "x", "type": "quantitative", "scale": {"domain": [2.1, 2.83], "nice": false, "zero": false}, "axis": null},
            "y": {"field": "y", "type": "quantitative", "scale": {"domain": [1.272, 2.0], "nice": false, "zero": false}, "axis": null},
            "text": {"field": "t"}
          }
        },
        {
          "data": {"name": "itB"},
          "mark": {"type": "text", "font": "Liberation Serif", "fontSize": 33, "fontStyle": "italic", "align": "center", "baseline": "middle"},
          "encoding": {
            "x": {"field": "x", "type": "quantitative", "scale": {"domain": [2.1, 2.83], "nice": false, "zero": false}, "axis": null},
            "y": {"field": "y", "type": "quantitative", "scale": {"domain": [1.272, 2.0], "nice": false, "zero": false}, "axis": null},
            "text": {"field": "t"}
          }
        },
        {
          "data": {"name": "itBigB"},
          "mark": {"type": "text", "font": "Liberation Serif", "fontSize": 38, "fontStyle": "italic", "align": "center", "baseline": "middle"},
          "encoding": {
            "x": {"field": "x", "type": "quantitative", "scale": {"domain": [2.1, 2.83], "nice": false, "zero": false}, "axis": null},
            "y": {"field": "y", "type": "quantitative", "scale": {"domain": [1.272, 2.0], "nice": false, "zero": false}, "axis": null},
            "text": {"field": "t"}
          }
        },
        {
          "data": {"name": "subB"},
          "mark": {"type": "text", "font": "Liberation Serif", "fontSize": 21, "fontStyle": "italic", "align": "center", "baseline": "middle"},
          "encoding": {
            "x": {"field": "x", "type": "quantitative", "scale": {"domain": [2.1, 2.83], "nice": false, "zero": false}, "axis": null},
            "y": {"field": "y", "type": "quantitative", "scale": {"domain": [1.272, 2.0], "nice": false, "zero": false}, "axis": null},
            "text": {"field": "t"}
          }
        },
        {
          "data": {"name": "xTitleUpB"},
          "mark": {"type": "text", "font": "Liberation Serif", "fontSize": 42, "align": "center", "baseline": "alphabetic"},
          "encoding": {
            "x": {"field": "x", "type": "quantitative", "scale": {"domain": [2.1, 2.83], "nice": false, "zero": false}, "axis": null},
            "y": {"field": "y", "type": "quantitative", "scale": {"domain": [1.272, 2.0], "nice": false, "zero": false}, "axis": null},
            "text": {"field": "t"}
          }
        },
        {
          "data": {"name": "xTitleItB"},
          "mark": {"type": "text", "font": "Liberation Serif", "fontSize": 42, "fontStyle": "italic", "align": "center", "baseline": "alphabetic"},
          "encoding": {
            "x": {"field": "x", "type": "quantitative", "scale": {"domain": [2.1, 2.83], "nice": false, "zero": false}, "axis": null},
            "y": {"field": "y", "type": "quantitative", "scale": {"domain": [1.272, 2.0], "nice": false, "zero": false}, "axis": null},
            "text": {"field": "t"}
          }
        },
        {
          "data": {"name": "xTitleSupB"},
          "mark": {"type": "text", "font": "Liberation Serif", "fontSize": 26, "align": "center", "baseline": "alphabetic"},
          "encoding": {
            "x": {"field": "x", "type": "quantitative", "scale": {"domain": [2.1, 2.83], "nice": false, "zero": false}, "axis": null},
            "y": {"field": "y", "type": "quantitative", "scale": {"domain": [1.272, 2.0], "nice": false, "zero": false}, "axis": null},
            "text": {"field": "t"}
          }
        },
        {
          "data": {"name": "xTitleSubB"},
          "mark": {"type": "text", "font": "Liberation Serif", "fontSize": 26, "fontStyle": "italic", "align": "center", "baseline": "alphabetic"},
          "encoding": {
            "x": {"field": "x", "type": "quantitative", "scale": {"domain": [2.1, 2.83], "nice": false, "zero": false}, "axis": null},
            "y": {"field": "y", "type": "quantitative", "scale": {"domain": [1.272, 2.0], "nice": false, "zero": false}, "axis": null},
            "text": {"field": "t"}
          }
        }
      ]
    }
  ],
  "spacing": 0,
  "bounds": "flush"
}
